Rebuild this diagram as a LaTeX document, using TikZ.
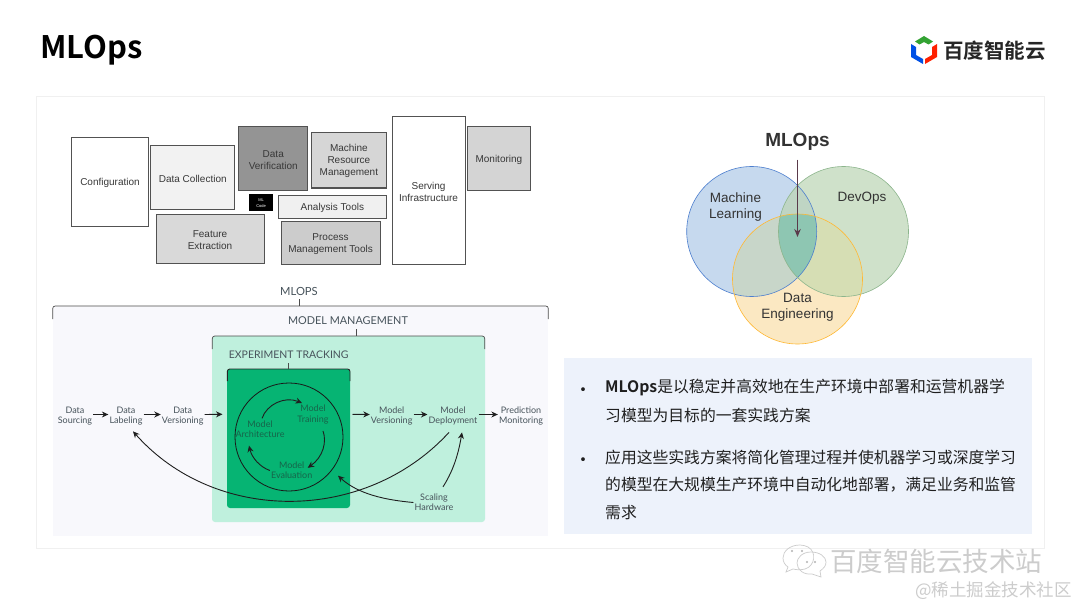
\documentclass[tikz,border=0pt]{standalone}
\usepackage{fontspec}
\setmainfont{Liberation Sans}
\newfontfamily\cjk[BoldFont=Noto Sans CJK SC Bold]{Noto Sans CJK SC}
\newfontfamily\lato{Lato}
\usetikzlibrary{arrows.meta}
\definecolor{inkgrey}{HTML}{47535B}
\definecolor{etgreen}{HTML}{06B473}
\definecolor{mmgreen}{HTML}{BFF0DD}
\definecolor{ettext}{HTML}{17644A}
\definecolor{lav}{HTML}{F8F8FC}
\definecolor{panel}{HTML}{EDF2FB}
\definecolor{cardline}{HTML}{F0F0F0}
\definecolor{vblue}{HTML}{C6D9EE}
\definecolor{vgreen}{HTML}{CFE1CA}
\definecolor{vorange}{HTML}{FBE8C2}
\definecolor{vbg}{HTML}{BFD5C4}
\definecolor{vbo}{HTML}{C8D6C9}
\definecolor{vgo}{HTML}{D6DEB4}
\definecolor{vall}{HTML}{8EC6B2}
\definecolor{varrow}{HTML}{5A3A4A}
\tikzset{
  blockbox/.style={draw=black!68,line width=1.1pt,inner sep=0pt,anchor=north west,align=center,text=black!78,font=\fontsize{10}{12}\selectfont},
  flowtext/.style={inner xsep=1pt,inner ysep=2pt,align=center,text=inkgrey,font=\lato\fontsize{9}{10.2}\selectfont},
  cycletext/.style={flowtext,text=ettext},
  headtext/.style={text=inkgrey,inner sep=0pt,font=\lato\fontsize{11.2}{13}\selectfont},
  flowarrow/.style={-{Stealth[length=6.5pt,width=6pt]},line width=.9pt,draw=black!88},
  bracket/.style={draw=black!70,line width=.7pt,rounded corners=2.5pt},
  tick/.style={draw=black!70,line width=.7pt},
  venn/.style={text=black!80,align=center,font=\fontsize{13.5}{16.5}\selectfont},
  bodytext/.style={anchor=west,inner sep=0pt,text=black!88,font=\cjk\fontsize{15.8}{18}\selectfont},
  marktext/.style={bodytext,text=black!20},
}
\begin{document}
\begin{tikzpicture}[x=1pt,y=-1pt]
\useasboundingbox (0,0) rectangle (1080,607);
\fill[white] (0,0) rectangle (1080,607);

% title and logo
\node[anchor=west,inner sep=0pt,font=\cjk\bfseries\fontsize{31}{34}\selectfont,text=black] (title) at (40,50) {MLOps};
\fill[green!55!black!80!white] (924,36)--(933,41.5)--(928.5,44.5)--(924,42)--(919.5,44.5)--(915,41.5)--cycle;
\fill[blue!65!cyan!90!black] (911,44)--(916,47)--(916,55)--(923,59)--(923,64)--(911,57)--cycle;
\fill[red!75!orange] (937,44)--(937,57)--(925,64)--(925,59)--(932,55)--(932,47)--cycle;
\node[anchor=west,inner sep=0pt,font=\cjk\bfseries\fontsize{20.5}{22}\selectfont,text=black!85] (logo) at (943,51) {百度智能云};

% card
\draw[cardline,line width=.8pt,fill=white] (36,96) rectangle (1044,548);

% top block diagram
\newcommand{\blk}[7]{\node[blockbox,fill=#6,minimum width=#4pt,minimum height=#5pt] (#1) at (#2,#3) {\rule{0pt}{9.2pt}#7};}
\blk{cfg}{71.2}{136.7}{76.5}{89.5}{white}{Configuration}
\blk{dc}{150.2}{145}{84}{64}{black!5}{Data Collection}
\blk{dv}{238.2}{126}{69}{64}{black!42}{Data\\Verification}
\blk{mrm}{310.5}{132}{75.7}{55.5}{black!16}{Machine\\Resource\\Management}
\blk{si}{391.5}{115.7}{73}{148.5}{white}{Serving\\Infrastructure}
\blk{mon}{466.5}{126}{63.7}{64}{black!17}{Monitoring}
\blk{at}{277.5}{195}{108.7}{23}{black!6}{Analysis Tools}
\blk{fe}{155.5}{214}{108}{48.7}{black!15}{Feature\\Extraction}
\blk{pm}{280.5}{221}{99}{43}{black!20}{Process\\Management Tools}
\node[anchor=north west,fill=black,text=white,inner sep=0pt,minimum width=23.7pt,minimum height=17pt,align=center,font=\fontsize{4}{6}\selectfont] (ml) at (249,194) {ML\\Code};

% lower diagram panels
\fill[lav] (53,306) rectangle (548,536);
\fill[mmgreen,rounded corners=3pt] (212,336) rectangle (485,522);
\fill[etgreen,rounded corners=3pt] (227,369) rectangle (350,508);

\node[headtext] (mlopsl) at (299,291.5) {MLOPS};
\node[headtext,font=\lato\fontsize{10.85}{13}\selectfont] (mml) at (348,321) {MODEL MANAGEMENT};
\node[headtext,font=\lato\fontsize{10.5}{13}\selectfont] (etl) at (288.7,355) {EXPERIMENT TRACKING};
\draw[bracket] (52.7,319)--(52.7,306)--(548.3,306)--(548.3,319);
\draw[bracket] (212.3,349)--(212.3,336)--(484.7,336)--(484.7,349);
\draw[bracket,line width=.9pt,draw=black!85] (227.3,381)--(227.3,369)--(350,369)--(350,381);
\draw[tick] (299.3,299)--(299.3,306);
\draw[tick] (356.7,329)--(356.7,336);
\draw[tick] (288.7,363)--(288.7,369);

\node[flowtext] (ds) at (75,416) {Data\\Sourcing};
\node[flowtext] (dl) at (126,416) {Data\\Labeling};
\node[flowtext] (dver) at (182.7,416) {Data\\Versioning};
\node[flowtext] (mv) at (391.7,416) {Model\\Versioning};
\node[flowtext] (md) at (453,416) {Model\\Deployment};
\node[flowtext] (pr) at (521,416) {Prediction\\Monitoring};
\node[flowtext] (sh) at (434,502.5) {Scaling\\Hardware};
\node[cycletext] (mt) at (313,414.5) {Model\\Training};
\node[cycletext] (ma) at (260,429) {Model\\Architecture};
\node[cycletext] (me) at (291.7,470.5) {Model\\Evaluation};
\coordinate (etin) at (222.5,414.3);
\coordinate (etout) at (352.5,414.3);
\coordinate (etrim) at (338,475.7);

\draw[draw=black!90,line width=.8pt] (289,437) circle (54);

\draw[flowarrow] ([yshift=1.5pt]ds.east) -- ([yshift=1.5pt]dl.west);
\draw[flowarrow] ([yshift=1.5pt]dl.east) -- ([yshift=1.5pt]dver.west);
\draw[flowarrow] ([yshift=1.5pt]dver.east) -- (etin);
\draw[flowarrow] (etout) -- ([yshift=1.5pt]mv.west);
\draw[flowarrow] ([yshift=1.5pt]mv.east) -- ([yshift=1.5pt]md.west);
\draw[flowarrow] ([yshift=1.5pt]md.east) -- ([yshift=1.5pt]pr.west);
\draw[flowarrow] ([xshift=2pt]ma.north) .. controls (267,404) and (285,396) .. ([xshift=-11pt]mt.north);
\draw[flowarrow] ([xshift=10pt,yshift=-5pt]mt.south) .. controls (327,442) and (323,457) .. ([xshift=16pt,yshift=-8pt]me.north);
\draw[flowarrow] (me.west) .. controls (260,467) and (252,458) .. ([xshift=-11pt,yshift=-6pt]ma.south);
\draw[flowarrow] ([xshift=-4pt,yshift=-5pt]md.south) .. controls (365,524) and (215,524) .. ([xshift=7pt,yshift=-4pt]dl.south);
\draw[flowarrow] (sh.west) .. controls (385,500) and (358,494) .. (etrim);
\draw[flowarrow] ([xshift=9pt,yshift=5pt]sh.north) .. controls (455,468) and (459,450) .. ([xshift=9pt,yshift=-5pt]md.south);

% Venn
\fill[vblue] (751.7,231.5) circle (65);
\fill[vgreen] (843.5,231.5) circle (65);
\fill[vorange] (797.5,279) circle (65);
\begin{scope}
\clip (751.7,231.5) circle (65);
\fill[vbo] (797.5,279) circle (65);
\end{scope}
\begin{scope}
\clip (843.5,231.5) circle (65);
\fill[vgo] (797.5,279) circle (65);
\clip (751.7,231.5) circle (65);
\fill[vbg] (843.5,231.5) circle (65);
\fill[vall] (797.5,279) circle (65);
\end{scope}
\draw[blue!45!teal!70!white,line width=.6pt] (751.7,231.5) circle (65);
\draw[green!35!black!45!white,line width=.6pt] (843.5,231.5) circle (65);
\draw[orange!70!yellow!80!white,line width=.6pt] (797.5,279) circle (65);
\node[venn,font=\bfseries\fontsize{19}{22}\selectfont] (vt) at (797.5,141.5) {MLOps};
\node[venn] (v1) at (735.5,207) {Machine\\Learning};
\node[venn] (v2) at (862,198.5) {DevOps};
\node[venn] (v3) at (797.5,307.5) {Data\\Engineering};
\coordinate (vc) at (797.5,237);
\draw[-{Stealth[length=8pt,width=6.5pt]},line width=1.1pt,draw=varrow] ([yshift=-6pt]vt.south) -- (vc);

% text panel
\fill[panel] (564,358) rectangle (1032,534);
\node[bodytext,font=\cjk\fontsize{18}{18}\selectfont] (b1) at (574,392) {•};
\node[bodytext] (l1) at (605,387) {\textbf{MLOps}是以稳定并高效地在生产环境中部署和运营机器学};
\node[bodytext] (l2) at (605,415) {习模型为目标的一套实践方案};
\node[bodytext,font=\cjk\fontsize{18}{18}\selectfont] (b2) at (574,462) {•};
\node[bodytext] (l3) at (605,457) {应用这些实践方案将简化管理过程并使机器学习或深度学习};
\node[bodytext] (l4) at (605,485) {的模型在大规模生产环境中自动化地部署，满足业务和监管};
\node[bodytext] (l5) at (605,513) {需求};

% watermark
\begin{scope}[draw=black!20,line width=.7pt,fill=white]
\draw (800,545) .. controls (790,545) and (783,551) .. (783,558) .. controls (783,562) and (785,565) .. (788,567) -- (786,572) -- (793,569) .. controls (797,570) and (801,570) .. (805,569) .. controls (815,566) and (817,552) .. (808,547) .. controls (806,546) and (803,545) .. (800,545) -- cycle;
\draw (811,552) .. controls (802,552) and (797,558) .. (797,563) .. controls (797,570) and (804,575) .. (812,574) -- (821,577) -- (820,571) .. controls (824,568) and (826,566) .. (826,562) .. controls (826,557) and (820,552) .. (811,552) -- cycle;
\end{scope}
\fill[black!30] (807,562) circle (1.1) (815,562) circle (1.1) (792,551) circle (1.1) (802,551) circle (1.1);
\node[marktext,font=\cjk\fontsize{26.5}{28}\selectfont] (w1) at (830,561) {百度智能云技术站};
\node[marktext,font=\cjk\fontsize{17.5}{20}\selectfont] (w2) at (915,591) {@稀土掘金技术社区};
\end{tikzpicture}
\end{document}
